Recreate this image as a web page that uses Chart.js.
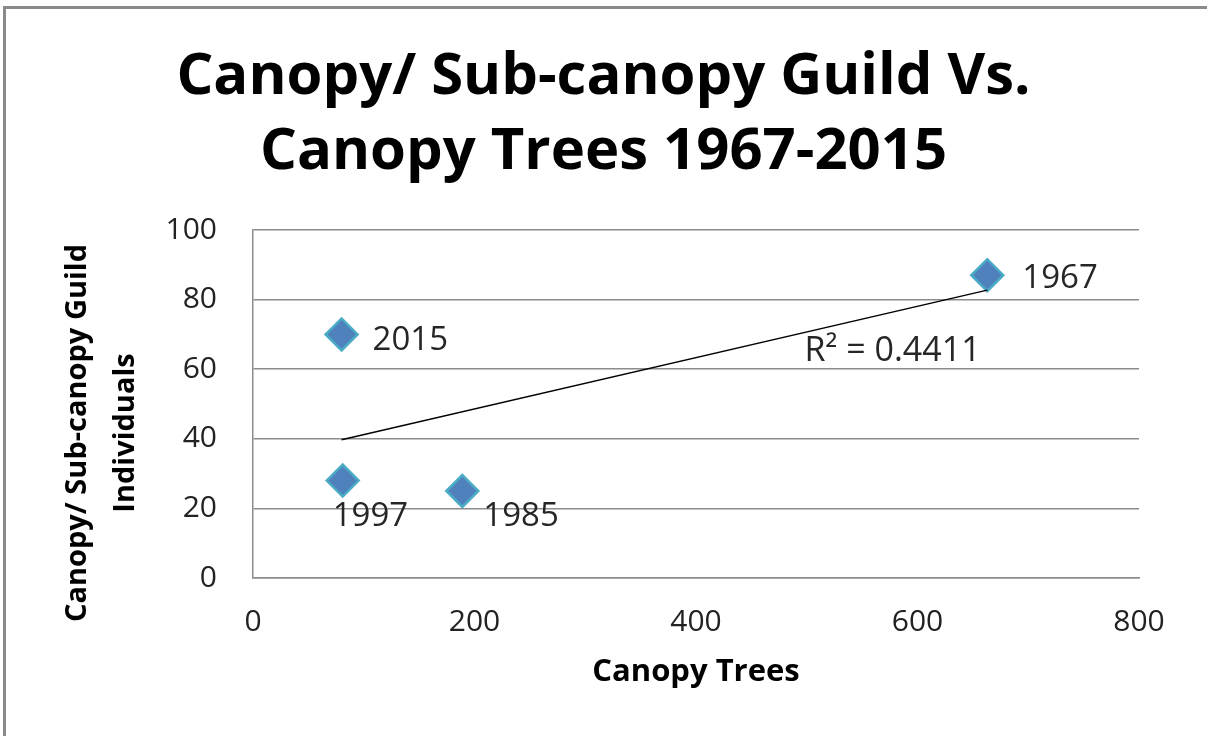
<!DOCTYPE html>
<html>
<head>
<meta charset="utf-8">
<script src="https://cdn.jsdelivr.net/npm/chart.js@4.4.1/dist/chart.umd.min.js"></script>
<style>
  html, body { margin: 0; padding: 0; background: #ffffff; width: 1207px; height: 736px; overflow: hidden; }
  canvas { display: block; }
</style>
</head>
<body>
<canvas id="c" width="1207" height="736"></canvas>
<script>
// ---- data ----
const years = ['1967', '2015', '1997', '1985'];
const canopyTrees = [663, 80, 81, 189];
const guildIndividuals = [87, 70, 28, 25];
const xTickValues = [0, 200, 400, 600, 800];
const yTickValues = [0, 20, 40, 60, 80, 100];
const chartTitle = ['Canopy/ Sub-canopy Guild Vs.', 'Canopy Trees 1967-2015'];
const xAxisTitle = 'Canopy Trees';
const yAxisTitle = ['Canopy/ Sub-canopy Guild', 'Individuals'];
const rSquaredText = 'R\u00B2 = 0.4411';

// ---- label placement (pixels relative to point) ----
const labelOffsets = [
  { dx: 35, dy: 3 },
  { dx: 31, dy: 6 },
  { dx: -10, dy: 36 },
  { dx: 21, dy: 26 }
];
const rSquaredAt = { x: 498, y: 65 };

// ---- linear trendline from the data (least squares) ----
function trend(xs, ys) {
  const n = xs.length;
  const mx = xs.reduce((a, b) => a + b, 0) / n;
  const my = ys.reduce((a, b) => a + b, 0) / n;
  let sxy = 0, sxx = 0;
  for (let i = 0; i < n; i++) { sxy += (xs[i] - mx) * (ys[i] - my); sxx += (xs[i] - mx) ** 2; }
  const slope = sxy / sxx, icpt = my - slope * mx;
  const x0 = Math.min(...xs), x1 = Math.max(...xs);
  return [{ x: x0, y: icpt + slope * x0 }, { x: x1, y: icpt + slope * x1 }];
}
const trendPoints = trend(canopyTrees, guildIndividuals);
const points = canopyTrees.map((x, i) => ({ x: x, y: guildIndividuals[i] }));

const FONT = "'Open Sans', 'DejaVu Sans', sans-serif";
const GRID = '#8c8c8c';

const overlay = {
  id: 'overlay',
  beforeDraw(chart) {
    const ctx = chart.ctx;
    ctx.save();
    ctx.fillStyle = '#ffffff';
    ctx.fillRect(0, 0, chart.width, chart.height);
    ctx.fillStyle = '#8a8a8a';
    ctx.fillRect(3, 6, 3, chart.height - 6);
    ctx.fillRect(3, 6, chart.width - 3, 3);
    ctx.restore();
  },
  afterDatasetsDraw(chart) {
    const ctx = chart.ctx;
    const meta = chart.getDatasetMeta(1);
    ctx.save();
    ctx.font = "33px " + FONT;
    ctx.fillStyle = '#262626';
    ctx.textAlign = 'left';
    ctx.textBaseline = 'middle';
    meta.data.forEach((el, i) => {
      ctx.fillText(years[i], el.x + labelOffsets[i].dx, el.y + labelOffsets[i].dy);
    });
    const xs = chart.scales.x, ys = chart.scales.y;
    ctx.font = "34px " + FONT;
    ctx.fillText(rSquaredText, xs.getPixelForValue(rSquaredAt.x), ys.getPixelForValue(rSquaredAt.y));
    ctx.restore();
  },
  afterDraw(chart) {
    const ctx = chart.ctx;
    ctx.save();
    ctx.font = "bold 29px " + FONT;
    ctx.fillStyle = '#000';
    ctx.textAlign = 'center';
    ctx.textBaseline = 'middle';
    const lineXs = [78, 126];
    yAxisTitle.forEach((t, i) => {
      ctx.save();
      ctx.translate(lineXs[i], 433);
      ctx.rotate(-Math.PI / 2);
      ctx.fillText(t, 0, 0);
      ctx.restore();
    });
    ctx.restore();
  }
};

new Chart(document.getElementById('c'), {
  type: 'scatter',
  data: {
    datasets: [
      {
        type: 'line',
        data: trendPoints,
        borderColor: '#000000',
        borderWidth: 1.5,
        pointRadius: 0,
        fill: false,
        tension: 0
      },
      {
        data: points,
        pointStyle: 'rectRot',
        pointRadius: 16,
        pointHoverRadius: 16,
        backgroundColor: '#4F81BD',
        borderColor: '#4BACC6',
        borderWidth: 2.5
      }
    ]
  },
  options: {
    responsive: false,
    animation: false,
    layout: { padding: { left: 0, right: 0, top: 0, bottom: 0 } },
    plugins: {
      legend: { display: false },
      tooltip: { enabled: false },
      title: {
        display: true,
        text: chartTitle,
        color: '#000',
        font: { family: FONT, size: 58, weight: 'bold', lineHeight: 75 / 58 },
        padding: { top: 40, bottom: 40 }
      }
    },
    scales: {
      x: {
        type: 'linear',
        position: 'bottom',
        min: 0, max: 800,
        afterBuildTicks: s => { s.ticks = xTickValues.map(v => ({ value: v })); },
        ticks: { color: '#222', font: { family: FONT, size: 30 }, padding: 26, maxRotation: 0 },
        grid: { display: false, drawTicks: false },
        border: { display: true, color: GRID, width: 1.5 },
        title: { display: true, text: xAxisTitle, color: '#000',
                 font: { family: FONT, size: 31, weight: 'bold' }, padding: { top: 0, bottom: 45 } },
        afterFit: s => { s.height = 158; }
      },
      y: {
        type: 'linear',
        position: 'left',
        min: 0, max: 100,
        afterBuildTicks: s => { s.ticks = yTickValues.map(v => ({ value: v })); },
        ticks: { color: '#222', font: { family: FONT, size: 30 }, padding: 36 },
        grid: { color: GRID, lineWidth: 1.5, drawTicks: false },
        border: { display: true, color: GRID, width: 1.5 },
        afterFit: s => { s.width = 253; }
      },
      yR: {
        type: 'linear',
        position: 'right',
        display: true,
        ticks: { display: false },
        grid: { display: false, drawTicks: false },
        border: { display: false },
        afterFit: s => { s.width = 68; }
      }
    }
  },
  plugins: [overlay]
});
</script>
</body>
</html>
